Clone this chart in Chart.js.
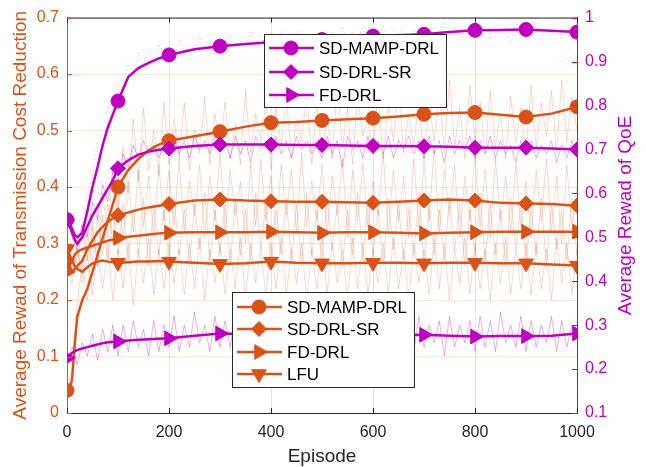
<!DOCTYPE html>
<html lang="en">
<head>
  <meta charset="UTF-8" />
  <title>Average reward vs episode</title>
  <script src="https://cdn.jsdelivr.net/npm/chart.js"></script>
  <style>
    body { margin: 0; background: #ffffff; }
    #chart { display: block; }
  </style>
</head>
<body>
<canvas id="chart" width="646" height="467"></canvas>
<script>
  // episodes for the smoothed curves (markers every 100)
  const episodes = [0,5,10,15,20,30,40,50,60,70,80,90,100,120,140,160,180,200,250,300,350,400,450,500,550,600,650,700,750,800,850,900,950,1000];

  // left axis: transmission cost reduction
  const costMamp = [0.04,0.04,0.06,0.12,0.17,0.20,0.22,0.25,0.28,0.31,0.34,0.37,0.40,0.43,0.45,0.465,0.475,0.482,0.49,0.498,0.507,0.514,0.515,0.518,0.52,0.522,0.525,0.529,0.531,0.532,0.528,0.524,0.53,0.542];
  const costSr = [0.27,0.26,0.25,0.255,0.26,0.27,0.29,0.305,0.32,0.33,0.338,0.345,0.35,0.355,0.36,0.364,0.367,0.37,0.376,0.378,0.376,0.375,0.374,0.374,0.373,0.372,0.374,0.376,0.378,0.376,0.372,0.371,0.37,0.367];
  const costFd = [0.25,0.26,0.27,0.28,0.285,0.29,0.293,0.296,0.299,0.302,0.305,0.307,0.31,0.312,0.314,0.316,0.318,0.319,0.32,0.32,0.32,0.321,0.32,0.319,0.32,0.32,0.319,0.318,0.319,0.32,0.321,0.321,0.321,0.321];
  const costLfu = [0.29,0.28,0.27,0.26,0.255,0.25,0.258,0.265,0.268,0.27,0.268,0.267,0.266,0.267,0.268,0.268,0.269,0.268,0.266,0.264,0.265,0.268,0.266,0.265,0.265,0.266,0.266,0.265,0.266,0.266,0.265,0.265,0.263,0.261];

  // right axis: QoE
  const qoeMamp = [0.54,0.53,0.52,0.505,0.5,0.51,0.56,0.615,0.66,0.71,0.75,0.78,0.81,0.865,0.885,0.897,0.907,0.915,0.928,0.935,0.94,0.944,0.947,0.95,0.955,0.958,0.96,0.962,0.967,0.971,0.972,0.973,0.97,0.967];
  const qoeSr = [0.54,0.525,0.51,0.495,0.485,0.5,0.525,0.55,0.57,0.59,0.61,0.63,0.657,0.675,0.688,0.695,0.699,0.702,0.708,0.711,0.711,0.711,0.71,0.71,0.709,0.708,0.708,0.707,0.706,0.704,0.704,0.704,0.702,0.7];
  const qoeFd = [0.225,0.232,0.237,0.24,0.243,0.247,0.25,0.253,0.256,0.259,0.261,0.262,0.263,0.265,0.267,0.268,0.269,0.27,0.276,0.281,0.28,0.279,0.278,0.278,0.277,0.277,0.277,0.278,0.276,0.274,0.275,0.275,0.276,0.281];

  // raw (unsmoothed) rewards, one value every 10 episodes
  const rawStep = 10;
  const rawCostMamp = [0.04,0.08,0.19,0.27,0.2,0.33,0.26,0.39,0.31,0.44,0.36,
    0.47,0.39,0.52,0.41,0.54,0.43,0.5,0.42,0.55,0.44,
    0.52,0.45,0.55,0.43,0.5,0.46,0.56,0.44,0.53,0.47,
    0.55,0.45,0.51,0.44,0.57,0.46,0.53,0.48,0.55,0.43,
    0.54,0.47,0.56,0.45,0.52,0.48,0.57,0.44,0.55,0.46,
    0.53,0.45,0.58,0.47,0.54,0.44,0.56,0.49,0.52,0.46,
    0.57,0.45,0.55,0.48,0.58,0.46,0.53,0.47,0.56,0.44,
    0.55,0.48,0.57,0.46,0.59,0.47,0.54,0.45,0.58,0.48,
    0.55,0.46,0.57,0.47,0.53,0.45,0.56,0.48,0.54,0.46,
    0.58,0.47,0.55,0.49,0.57,0.46,0.59,0.48,0.56,0.5];
  const rawCostSr = [0.26,0.23,0.29,0.25,0.32,0.27,0.35,0.28,0.37,0.3,0.39,
    0.31,0.41,0.32,0.43,0.33,0.42,0.31,0.44,0.34,0.43,
    0.33,0.45,0.32,0.41,0.35,0.44,0.31,0.42,0.34,0.46,
    0.32,0.43,0.35,0.41,0.3,0.44,0.33,0.45,0.34,0.42,
    0.31,0.44,0.35,0.43,0.32,0.46,0.33,0.41,0.34,0.44,
    0.32,0.42,0.35,0.45,0.31,0.43,0.34,0.44,0.33,0.41,
    0.35,0.46,0.32,0.43,0.34,0.42,0.31,0.45,0.33,0.44,
    0.34,0.47,0.32,0.43,0.35,0.44,0.31,0.42,0.34,0.46,
    0.33,0.43,0.31,0.45,0.34,0.42,0.32,0.44,0.33,0.41,
    0.31,0.43,0.34,0.45,0.32,0.42,0.3,0.44,0.33,0.4];
  const rawCostFd = [0.25,0.3,0.26,0.33,0.27,0.34,0.26,0.35,0.27,0.36,0.28,
    0.37,0.27,0.36,0.28,0.38,0.26,0.37,0.28,0.36,0.27,
    0.38,0.28,0.36,0.26,0.37,0.29,0.39,0.27,0.36,0.28,
    0.37,0.26,0.38,0.28,0.36,0.27,0.39,0.29,0.37,0.26,
    0.36,0.28,0.38,0.27,0.37,0.26,0.39,0.28,0.36,0.27,
    0.38,0.29,0.37,0.26,0.36,0.28,0.39,0.27,0.37,0.28,
    0.36,0.26,0.38,0.29,0.37,0.27,0.36,0.28,0.39,0.26,
    0.37,0.28,0.36,0.27,0.38,0.29,0.37,0.26,0.36,0.28,
    0.39,0.27,0.37,0.28,0.36,0.26,0.38,0.29,0.37,0.27,
    0.36,0.28,0.38,0.26,0.37,0.29,0.36,0.27,0.38,0.28];
  const rawCostLfu = [0.29,0.25,0.3,0.23,0.28,0.21,0.29,0.22,0.3,0.2,0.29,
    0.22,0.3,0.19,0.29,0.23,0.31,0.21,0.29,0.22,0.3,
    0.23,0.29,0.21,0.3,0.22,0.31,0.2,0.29,0.23,0.3,
    0.21,0.29,0.22,0.31,0.2,0.3,0.23,0.29,0.21,0.3,
    0.22,0.31,0.21,0.29,0.23,0.3,0.2,0.29,0.22,0.31,
    0.21,0.3,0.23,0.29,0.2,0.31,0.22,0.3,0.21,0.29,
    0.23,0.3,0.21,0.31,0.22,0.29,0.2,0.3,0.23,0.29,
    0.21,0.31,0.22,0.3,0.2,0.29,0.23,0.31,0.21,0.3,
    0.22,0.29,0.2,0.3,0.23,0.31,0.21,0.29,0.22,0.3,
    0.21,0.3,0.22,0.29,0.2,0.31,0.23,0.3,0.21,0.29];
  const rawQoeMamp = [0.55,0.52,0.5,0.53,0.6,0.64,0.72,0.7,0.8,0.78,0.85,
    0.84,0.9,0.87,0.92,0.89,0.93,0.9,0.94,0.91,0.93,
    0.91,0.95,0.92,0.94,0.93,0.96,0.92,0.95,0.93,0.96,
    0.93,0.96,0.94,0.95,0.93,0.97,0.94,0.96,0.93,0.96,
    0.94,0.97,0.93,0.96,0.95,0.97,0.94,0.96,0.95,0.97,
    0.94,0.97,0.95,0.98,0.94,0.97,0.95,0.98,0.94,0.97,
    0.95,0.98,0.94,0.97,0.96,0.98,0.95,0.97,0.94,0.98,
    0.96,0.98,0.95,0.99,0.96,0.98,0.95,0.97,0.96,0.99,
    0.96,0.98,0.95,0.99,0.96,0.98,0.94,0.99,0.96,0.98,
    0.96,0.99,0.95,0.98,0.96,0.99,0.95,0.98,0.96,0.97];
  const rawQoeSr = [0.55,0.5,0.47,0.53,0.5,0.58,0.54,0.62,0.58,0.65,0.63,
    0.69,0.66,0.71,0.68,0.72,0.69,0.71,0.68,0.72,0.69,
    0.73,0.69,0.72,0.68,0.73,0.7,0.72,0.69,0.73,0.7,
    0.72,0.68,0.73,0.69,0.72,0.67,0.73,0.7,0.72,0.69,
    0.73,0.69,0.72,0.68,0.73,0.7,0.72,0.69,0.71,0.68,
    0.73,0.69,0.72,0.66,0.73,0.7,0.72,0.68,0.73,0.69,
    0.72,0.69,0.73,0.68,0.72,0.7,0.73,0.69,0.72,0.68,
    0.73,0.69,0.72,0.67,0.73,0.69,0.72,0.7,0.73,0.68,
    0.72,0.69,0.73,0.68,0.72,0.69,0.71,0.67,0.72,0.69,
    0.72,0.68,0.71,0.69,0.72,0.67,0.71,0.68,0.72,0.69];
  const rawQoeFd = [0.22,0.25,0.21,0.26,0.23,0.28,0.22,0.29,0.24,0.3,0.23,
    0.3,0.24,0.31,0.25,0.29,0.23,0.31,0.24,0.3,0.25,
    0.32,0.24,0.3,0.25,0.33,0.26,0.3,0.24,0.32,0.25,
    0.31,0.25,0.32,0.24,0.3,0.26,0.33,0.25,0.31,0.24,
    0.31,0.25,0.32,0.21,0.3,0.26,0.31,0.24,0.32,0.25,
    0.3,0.26,0.32,0.24,0.31,0.25,0.3,0.22,0.32,0.25,
    0.31,0.24,0.32,0.25,0.3,0.26,0.31,0.24,0.32,0.25,
    0.3,0.26,0.31,0.23,0.32,0.25,0.3,0.26,0.31,0.24,
    0.32,0.25,0.31,0.24,0.33,0.26,0.3,0.25,0.32,0.24,
    0.31,0.25,0.3,0.26,0.32,0.24,0.31,0.25,0.3,0.27];

  const xTicks = [0,200,400,600,800,1000];
  const labelsQoe = ['SD-MAMP-DRL','SD-DRL-SR','FD-DRL'];
  const labelsCost = ['SD-MAMP-DRL','SD-DRL-SR','FD-DRL','LFU'];

  const ORANGE = '#D95319';
  const MAGENTA = '#BF00BF';
  const ORANGE_LIGHT = 'rgba(217,83,25,0.22)';
  const MAGENTA_LIGHT = 'rgba(191,0,191,0.32)';
  const FONT = "'Liberation Sans', Arial, sans-serif";

  const pts = (xs, ys) => ys.map((y, i) => ({ x: xs[i], y: y }));
  const rawPts = ys => ys.map((y, i) => ({ x: i * rawStep, y: y }));

  const markers = {
    circle: { style: 'circle', rot: 0, r: 7 },
    diamond: { style: 'rectRot', rot: 0, r: 7.5 },
    right: { style: 'triangle', rot: 90, r: 8.5 },
    down: { style: 'triangle', rot: 180, r: 8.5 }
  };

  function mainLine(label, data, color, m, axis) {
    return {
      label: label,
      data: data,
      yAxisID: axis,
      borderColor: color,
      backgroundColor: color,
      borderWidth: 2.5,
      pointStyle: m.style,
      pointRotation: m.rot,
      pointRadius: c => (c.raw && c.raw.x % 100 === 0) ? m.r : 0,
      pointBorderWidth: 1,
      tension: 0
    };
  }
  function rawLine(data, color, axis, dash) {
    return {
      data: data,
      yAxisID: axis,
      borderColor: color,
      borderWidth: 1,
      borderDash: dash || [],
      pointRadius: 0,
      tension: 0
    };
  }

  // first dataset draws on top
  const datasets = [
    mainLine(labelsQoe[0], pts(episodes, qoeMamp), MAGENTA, markers.circle, 'y2'),
    mainLine(labelsQoe[1], pts(episodes, qoeSr), MAGENTA, markers.diamond, 'y2'),
    mainLine(labelsQoe[2], pts(episodes, qoeFd), MAGENTA, markers.right, 'y2'),
    mainLine(labelsCost[0], pts(episodes, costMamp), ORANGE, markers.circle, 'y'),
    mainLine(labelsCost[1], pts(episodes, costSr), ORANGE, markers.diamond, 'y'),
    mainLine(labelsCost[2], pts(episodes, costFd), ORANGE, markers.right, 'y'),
    mainLine(labelsCost[3], pts(episodes, costLfu), ORANGE, markers.down, 'y'),
    rawLine(rawPts(rawQoeMamp), MAGENTA_LIGHT, 'y2', [1, 3]),
    rawLine(rawPts(rawQoeSr), MAGENTA_LIGHT, 'y2'),
    rawLine(rawPts(rawQoeFd), MAGENTA_LIGHT, 'y2'),
    rawLine(rawPts(rawCostMamp), ORANGE_LIGHT, 'y'),
    rawLine(rawPts(rawCostSr), ORANGE_LIGHT, 'y'),
    rawLine(rawPts(rawCostFd), ORANGE_LIGHT, 'y'),
    rawLine(rawPts(rawCostLfu), ORANGE_LIGHT, 'y')
  ];

  function drawLegend(ctx, box, rows, color, items) {
    ctx.save();
    ctx.fillStyle = '#ffffff';
    ctx.fillRect(box.x, box.y, box.w, box.h);
    ctx.strokeStyle = '#262626';
    ctx.lineWidth = 1;
    ctx.strokeRect(box.x + 0.5, box.y + 0.5, box.w, box.h);
    ctx.font = '17px ' + FONT;
    ctx.textBaseline = 'middle';
    items.forEach((it, i) => {
      const y = rows[i];
      ctx.strokeStyle = color;
      ctx.lineWidth = 2.5;
      ctx.beginPath();
      ctx.moveTo(box.x + 5, y);
      ctx.lineTo(box.x + 50, y);
      ctx.stroke();
      ctx.fillStyle = color;
      ctx.lineWidth = 1;
      Chart.helpers.drawPoint(ctx, { pointStyle: it.m.style, rotation: it.m.rot, radius: it.m.r, borderWidth: 1 }, box.x + 27, y);
      ctx.fillStyle = '#000000';
      ctx.textAlign = 'left';
      ctx.fillText(it.label, box.x + 55, y + 1);
    });
    ctx.restore();
  }

  const decorPlugin = {
    id: 'decor',
    afterDraw(chart) {
      const ctx = chart.ctx;
      const a = chart.chartArea;
      const sx = chart.scales.x, sy = chart.scales.y, sy2 = chart.scales.y2;
      ctx.save();
      // top box line
      ctx.strokeStyle = '#262626';
      ctx.lineWidth = 1;
      ctx.beginPath();
      ctx.moveTo(a.left, a.top + 0.5);
      ctx.lineTo(a.right, a.top + 0.5);
      ctx.stroke();
      // inward ticks
      xTicks.forEach(v => {
        const px = Math.round(sx.getPixelForValue(v)) + 0.5;
        ctx.beginPath();
        ctx.moveTo(px, a.bottom); ctx.lineTo(px, a.bottom - 5);
        ctx.moveTo(px, a.top); ctx.lineTo(px, a.top + 5);
        ctx.stroke();
      });
      ctx.strokeStyle = ORANGE;
      sy.ticks.forEach(t => {
        const py = Math.round(sy.getPixelForValue(t.value)) + 0.5;
        ctx.beginPath(); ctx.moveTo(a.left, py); ctx.lineTo(a.left + 5, py); ctx.stroke();
      });
      ctx.strokeStyle = MAGENTA;
      sy2.ticks.forEach(t => {
        const py = Math.round(sy2.getPixelForValue(t.value)) + 0.5;
        ctx.beginPath(); ctx.moveTo(a.right, py); ctx.lineTo(a.right - 5, py); ctx.stroke();
      });
      // axis titles
      ctx.font = '19px ' + FONT;
      ctx.textAlign = 'center';
      ctx.textBaseline = 'middle';
      ctx.fillStyle = '#262626';
      ctx.fillText('Episode', (a.left + a.right) / 2, 457);
      const midY = (a.top + a.bottom) / 2;
      ctx.save();
      ctx.translate(21, midY);
      ctx.rotate(-Math.PI / 2);
      ctx.fillStyle = ORANGE;
      ctx.fillText('Average Rewad of Transmission Cost Reduction', 0, 0);
      ctx.restore();
      ctx.save();
      ctx.translate(626, midY);
      ctx.rotate(-Math.PI / 2);
      ctx.fillStyle = MAGENTA;
      ctx.fillText('Average Rewad of QoE', 0, 0);
      ctx.restore();
      ctx.restore();

      drawLegend(ctx, { x: 264, y: 34, w: 182, h: 73 }, [48, 72, 95], MAGENTA,
        [{ label: labelsQoe[0], m: markers.circle }, { label: labelsQoe[1], m: markers.diamond }, { label: labelsQoe[2], m: markers.right }]);
      drawLegend(ctx, { x: 232, y: 292, w: 182, h: 95 }, [307, 329, 352, 374], ORANGE,
        [{ label: labelsCost[0], m: markers.circle }, { label: labelsCost[1], m: markers.diamond },
         { label: labelsCost[2], m: markers.right }, { label: labelsCost[3], m: markers.down }]);
    }
  };

  const fmt = v => String(+Number(v).toFixed(1));

  new Chart(document.getElementById('chart'), {
    type: 'line',
    data: { datasets: datasets },
    options: {
      responsive: false,
      animation: false,
      devicePixelRatio: 1,
      layout: { padding: { top: 11, left: 0, right: 0, bottom: 0 } },
      plugins: { legend: { display: false }, tooltip: { enabled: false } },
      scales: {
        x: {
          type: 'linear', min: 0, max: 1000,
          afterBuildTicks: s => { s.ticks = xTicks.map(v => ({ value: v })); },
          afterFit: s => { s.height = 54; },
          ticks: { color: '#262626', font: { family: FONT, size: 16 }, padding: 10, callback: v => String(v) },
          grid: { color: 'rgba(38,38,38,0.13)', drawTicks: false },
          border: { color: '#262626', width: 1 }
        },
        y: {
          position: 'left', min: 0, max: 0.7,
          afterFit: s => { s.width = 67; },
          ticks: { stepSize: 0.1, color: ORANGE, font: { family: FONT, size: 16 }, padding: 8, callback: fmt },
          grid: { color: 'rgba(217,83,25,0.15)', drawTicks: false },
          border: { color: ORANGE, width: 1 }
        },
        y2: {
          position: 'right', min: 0.1, max: 1,
          afterFit: s => { s.width = 69; },
          ticks: { stepSize: 0.1, color: MAGENTA, font: { family: FONT, size: 16 }, padding: 8, callback: fmt },
          grid: { drawOnChartArea: false, drawTicks: false },
          border: { color: MAGENTA, width: 1 }
        }
      }
    },
    plugins: [decorPlugin]
  });
</script>
</body>
</html>
